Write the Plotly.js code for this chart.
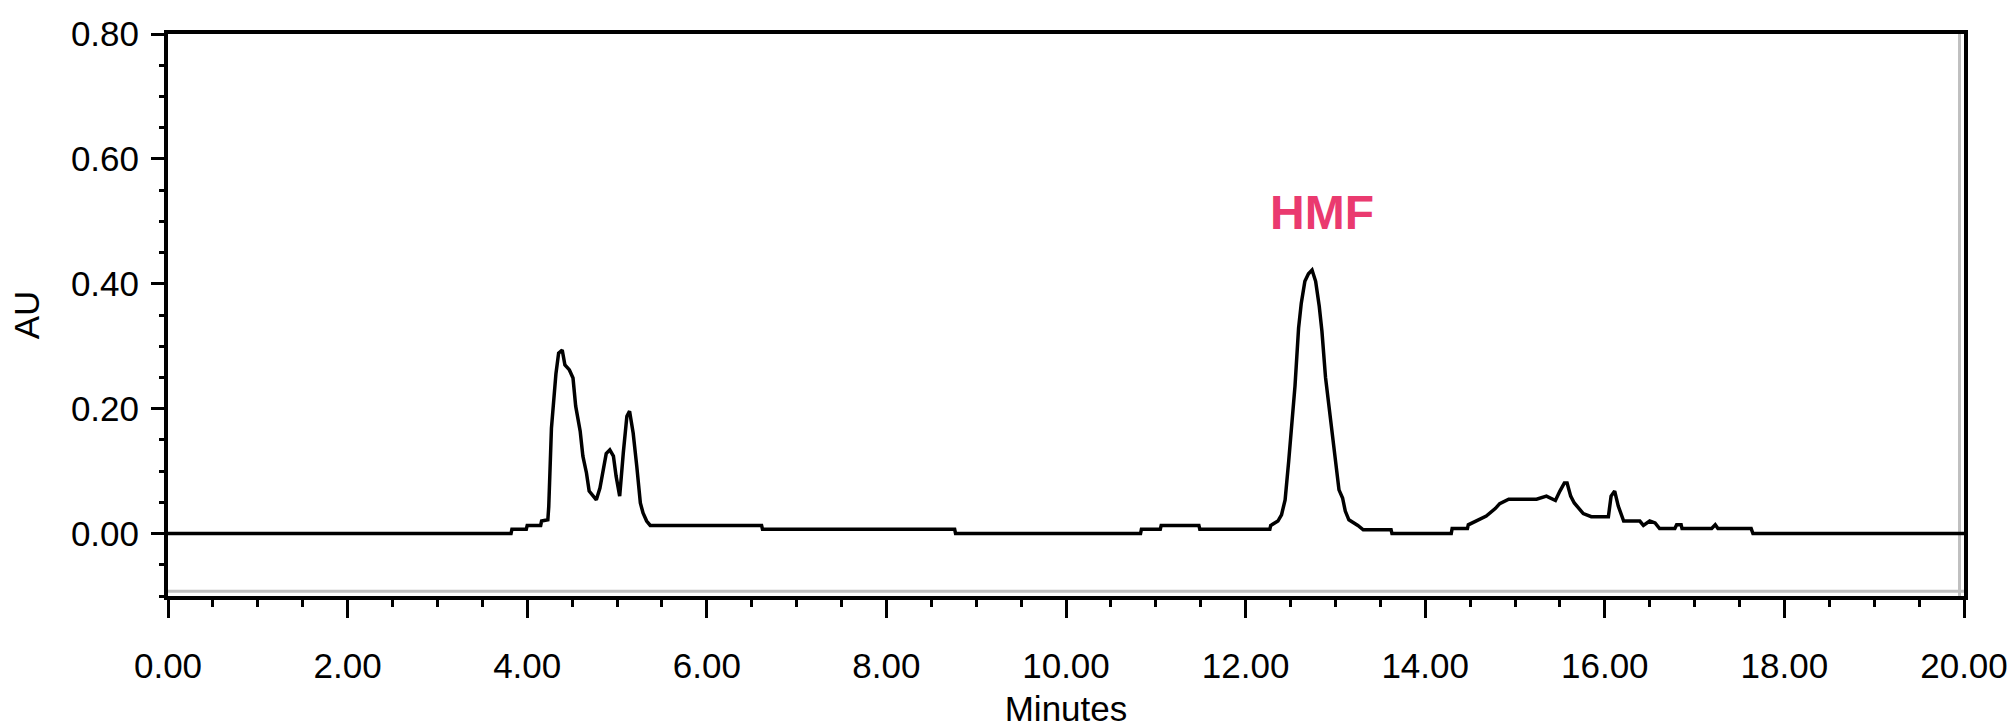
<!DOCTYPE html>
<html>
<head>
<meta charset="utf-8">
<script src="https://cdn.plot.ly/plotly-3.0.1.min.js"></script>
<style>
  html, body { margin: 0; padding: 0; background: #ffffff; }
  #chart { width: 2009px; height: 728px; }
</style>
</head>
<body>
<div id="chart"></div>
<script>
// Retention time (minutes)
const timeMin = [
  0.00, 3.82, 3.83, 3.99, 4.00, 4.15, 4.16, 4.23, 4.24, 4.27, 4.32, 4.35, 4.39, 4.42, 4.47, 4.51,
  4.54, 4.59, 4.62, 4.66, 4.69, 4.74, 4.77, 4.81, 4.85, 4.88, 4.92, 4.96, 4.99, 5.03, 5.07, 5.11,
  5.14, 5.18, 5.22, 5.26, 5.29, 5.33, 5.37, 6.61, 6.62, 8.76, 8.77, 10.83, 10.84, 11.05, 11.06, 11.48,
  11.49, 12.27, 12.28, 12.36, 12.40, 12.44, 12.48, 12.51, 12.55, 12.59, 12.62, 12.66, 12.70, 12.74,
  12.78, 12.82, 12.85, 12.89, 12.93, 12.97, 13.00, 13.04, 13.08, 13.11, 13.15, 13.20, 13.25, 13.31,
  13.62, 13.63, 14.29, 14.30, 14.47, 14.48, 14.59, 14.68, 14.78, 14.83, 14.93, 15.24, 15.35, 15.45,
  15.50, 15.55, 15.58, 15.62, 15.66, 15.71, 15.76, 15.85, 16.04, 16.07, 16.11, 16.15, 16.21, 16.39,
  16.43, 16.50, 16.56, 16.61, 16.78, 16.80, 16.85, 16.86, 17.19, 17.23, 17.26, 17.63, 17.65, 20.00
];
// Absorbance (AU)
const absorbanceAU = [
  0.000, 0.000, 0.007, 0.007, 0.013, 0.013, 0.020, 0.022, 0.043, 0.169, 0.256, 0.289, 0.294, 0.270, 0.262, 0.249,
  0.204, 0.164, 0.124, 0.097, 0.068, 0.060, 0.054, 0.073, 0.102, 0.128, 0.134, 0.124, 0.092, 0.060, 0.129, 0.188,
  0.196, 0.161, 0.108, 0.049, 0.033, 0.020, 0.013, 0.013, 0.007, 0.007, 0.000, 0.000, 0.007, 0.007, 0.013, 0.013,
  0.007, 0.007, 0.013, 0.020, 0.030, 0.054, 0.116, 0.169, 0.236, 0.329, 0.369, 0.404, 0.416, 0.422,
  0.404, 0.364, 0.324, 0.250, 0.204, 0.156, 0.118, 0.070, 0.057, 0.036, 0.022, 0.018, 0.013, 0.006,
  0.006, 0.000, 0.000, 0.008, 0.008, 0.014, 0.021, 0.028, 0.040, 0.048, 0.055, 0.055, 0.060, 0.053,
  0.068, 0.081, 0.081, 0.060, 0.049, 0.040, 0.032, 0.027, 0.027, 0.060, 0.068, 0.044, 0.020, 0.020,
  0.013, 0.020, 0.017, 0.008, 0.008, 0.014, 0.014, 0.008, 0.008, 0.014, 0.008, 0.008, 0.000, 0.000
];

const xTickVals = [0, 2, 4, 6, 8, 10, 12, 14, 16, 18, 20];
const yTickVals = [0.0, 0.2, 0.4, 0.6, 0.8];
const peakName = 'HMF';
const peakLabelPos = [12.85, 0.514];

const axisFont = { family: '"Liberation Sans", Arial, sans-serif', size: 35, color: '#000000' };

const trace = {
  x: timeMin,
  y: absorbanceAU,
  type: 'scatter',
  mode: 'lines',
  line: { color: '#000000', width: 3.5 },
  hoverinfo: 'skip',
  showlegend: false
};

const layout = {
  width: 2009,
  height: 728,
  margin: { l: 168, r: 45, t: 34, b: 132 },
  paper_bgcolor: '#ffffff',
  plot_bgcolor: '#ffffff',
  font: axisFont,
  xaxis: {
    range: [0, 20],
    tickmode: 'array',
    tickvals: xTickVals,
    ticktext: xTickVals.map(v => v.toFixed(2)),
    ticks: 'outside',
    ticklen: 18,
    tickwidth: 3,
    tickcolor: '#000000',
    ticklabelstandoff: 18,
    ticklabeloverflow: 'allow',
    minor: { dtick: 0.5, tick0: 0, ticks: 'outside', ticklen: 7, tickwidth: 3, tickcolor: '#000000', showgrid: false },
    showline: true,
    linewidth: 4,
    linecolor: '#000000',
    mirror: true,
    showgrid: false,
    zeroline: false,
    tickfont: axisFont,
    title: { text: 'Minutes', font: axisFont, standoff: 20 }
  },
  yaxis: {
    range: [-0.1, 0.8],
    tickmode: 'array',
    tickvals: yTickVals,
    ticktext: yTickVals.map(v => v.toFixed(2)),
    ticks: 'outside',
    ticklen: 13,
    tickwidth: 3,
    tickcolor: '#000000',
    ticklabelstandoff: 5,
    ticklabeloverflow: 'allow',
    minor: { dtick: 0.05, tick0: 0, ticks: 'outside', ticklen: 5, tickwidth: 3, tickcolor: '#000000', showgrid: false },
    showline: true,
    linewidth: 4,
    linecolor: '#000000',
    mirror: true,
    showgrid: false,
    zeroline: false,
    tickfont: axisFont,
    title: { text: 'AU', font: axisFont, standoff: 22 }
  },
  shapes: [
    { type: 'line', xref: 'paper', yref: 'y', x0: 0, x1: 1, y0: -0.0925, y1: -0.0925,
      line: { color: '#c0c0c0', width: 3 }, layer: 'below' },
    { type: 'line', xref: 'x', yref: 'paper', x0: 19.95, x1: 19.95, y0: 0, y1: 1,
      line: { color: '#c0c0c0', width: 3 }, layer: 'below' }
  ],
  annotations: [
    { x: peakLabelPos[0], y: peakLabelPos[1], xref: 'x', yref: 'y', text: peakName, showarrow: false,
      font: { family: '"Liberation Sans", Arial, sans-serif', size: 48, color: '#EA3A6F', weight: 'bold' } }
  ]
};

Plotly.newPlot('chart', [trace], layout, { displayModeBar: false, staticPlot: true });
</script>
</body>
</html>
